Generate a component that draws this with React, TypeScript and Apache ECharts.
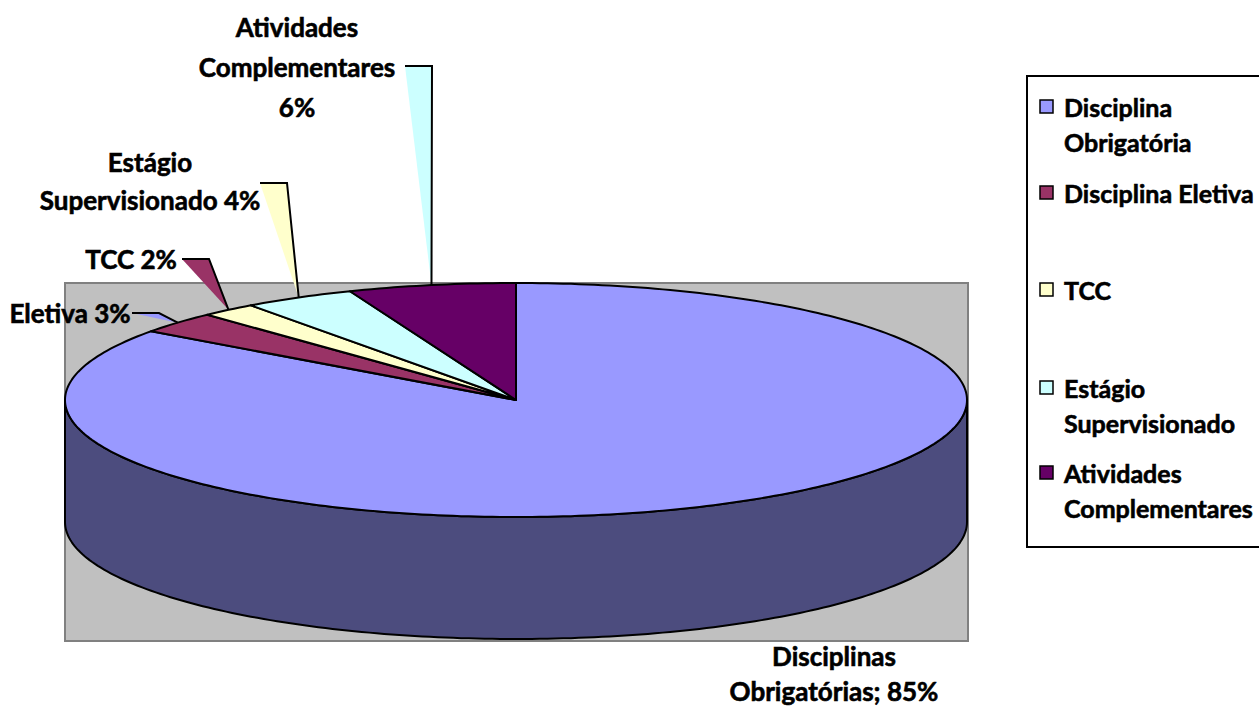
import React, { useEffect, useRef } from "react";
import * as echarts from "echarts";

// ---- data ----
const names = [
  "Disciplina Obrigatória",
  "Disciplina Eletiva",
  "TCC",
  "Estágio Supervisionado",
  "Atividades Complementares",
];
const legendLabels = [
  "Disciplina\nObrigatória",
  "Disciplina Eletiva",
  "TCC",
  "Estágio\nSupervisionado",
  "Atividades\nComplementares",
];
const values = [85, 3, 2, 4, 6];
const labelNames = [
  "Disciplinas\nObrigatórias",
  "Eletiva",
  "TCC",
  "Estágio\nSupervisionado",
  "Atividades\nComplementares",
];
const labelSeps = ["; ", " ", " ", " ", "\n"];

// ---- styles / layout ----
const topColors = ["#9999FF", "#993366", "#FFFFCC", "#CCFFFF", "#660066"];
const sideColors = ["#4C4C7E", "#4D1A33", "#808066", "#668080", "#330033"];
const FONT = "Lato, 'Open Sans', sans-serif";
const FS = 26;
const LEGEND_FS = 25;
const CX = 516, CY = 400, RX = 451, RY = 117, DEPTH = 122;
const labelPos = [
  [834, 673],
  [70, 313],
  [131, 259],
  [150, 181],
  [297, 67],
];
const labelLineHeights = [35, 38, 38, 38, 40];
const leaderStart: (number[] | null)[] = [null, [132, 313], [182, 259], [260, 183], [405, 66]];
const legendRowY = [107, 193, 290, 388, 473];

const total = values.reduce((a, b) => a + b, 0);
const cum: number[] = [];
values.reduce((acc, v, i) => {
  cum[i] = acc;
  return acc + v;
}, 0);

function pt(theta: number, dy = 0): number[] {
  return [CX + RX * Math.sin(theta), CY - RY * Math.cos(theta) + dy];
}
function arc(a0: number, a1: number, dy = 0): number[][] {
  const n = Math.max(2, Math.ceil(((a1 - a0) / (2 * Math.PI)) * 360));
  const out: number[][] = [];
  for (let k = 0; k <= n; k++) out.push(pt(a0 + ((a1 - a0) * k) / n, dy));
  return out;
}
function angles(i: number) {
  return [(cum[i] / total) * 2 * Math.PI, ((cum[i] + values[i]) / total) * 2 * Math.PI];
}

const textBase = {
  fill: "#000",
  fontFamily: FONT,
  fontWeight: "bold",
  stroke: "#000",
  lineWidth: 0.6,
};

export default function App() {
  const ref = useRef<HTMLDivElement>(null);
  useEffect(() => {
    if (!ref.current) return;
    const chart = echarts.init(ref.current, null, { renderer: "svg" });
    const data = values.map((v, i) => ({ value: v, name: names[i] }));

    const legendGraphics: any[] = [
      {
        type: "rect",
        shape: { x: 1027, y: 76, width: 300, height: 471 },
        style: { fill: "#fff", stroke: "#000", lineWidth: 2 },
      },
    ];
    legendLabels.forEach((t, i) => {
      const y = legendRowY[i];
      legendGraphics.push({
        type: "rect",
        shape: { x: 1040, y: y - 7, width: 13, height: 13 },
        style: { fill: topColors[i], stroke: "#000", lineWidth: 1.5 },
      });
      legendGraphics.push({
        type: "text",
        x: 1064,
        y: y - 17.5,
        style: {
          ...textBase,
          text: t,
          fontSize: LEGEND_FS,
          lineHeight: 35,
          align: "left",
          verticalAlign: "top",
        },
      });
    });

    chart.setOption({
      animation: false,
      graphic: [
        {
          type: "rect",
          z: 0,
          shape: { x: 65, y: 283, width: 903, height: 358 },
          style: { fill: "#C0C0C0", stroke: "#808080", lineWidth: 2 },
        },
        ...legendGraphics,
      ],
      series: [
        {
          type: "custom",
          name: "pie3d",
          coordinateSystem: "none",
          silent: true,
          z: 2,
          data,
          renderItem: (params: any, api: any) => {
            const i = params.dataIndex;
            const [s, e] = angles(i);
            const children: any[] = [];
            const a0 = Math.max(s, Math.PI / 2);
            const a1 = Math.min(e, (3 * Math.PI) / 2);
            if (a1 > a0) {
              const pts = arc(a0, a1).concat(arc(a0, a1, DEPTH).reverse());
              children.push({
                type: "polygon",
                shape: { points: pts },
                style: { fill: sideColors[i], stroke: "#000", lineWidth: 2, lineJoin: "round" },
              });
            }
            children.push({
              type: "polygon",
              shape: { points: [[CX, CY]].concat(arc(s, e)) },
              style: { fill: topColors[i], stroke: "#000", lineWidth: 2, lineJoin: "round" },
            });
            return { type: "group", children };
          },
        },
        {
          type: "custom",
          name: "labels",
          coordinateSystem: "none",
          silent: true,
          z: 5,
          data,
          renderItem: (params: any, api: any) => {
            const i = params.dataIndex;
            const [s, e] = angles(i);
            const children: any[] = [];
            const st = leaderStart[i];
            if (st) {
              const end = pt((s + e) / 2);
              const elbow = [st[0] + 27, st[1]];
              const prev = topColors[(i + topColors.length - 1) % topColors.length];
              children.push({
                type: "polygon",
                shape: { points: [st, elbow, end] },
                style: { fill: prev, stroke: null },
              });
              children.push({
                type: "polyline",
                shape: { points: [st, elbow, end] },
                style: { fill: null, stroke: "#000", lineWidth: 2 },
              });
            }
            const pct = Math.round((api.value(0) / total) * 100) + "%";
            children.push({
              type: "text",
              x: labelPos[i][0],
              y: labelPos[i][1],
              style: {
                ...textBase,
                text: labelNames[i] + labelSeps[i] + pct,
                fontSize: FS,
                lineHeight: labelLineHeights[i],
                align: "center",
                verticalAlign: "middle",
              },
            });
            return { type: "group", children };
          },
        },
      ],
    });
    return () => chart.dispose();
  }, []);
  return (
    <div
      ref={ref}
      style={{ position: "fixed", left: 0, top: 0, width: 1259, height: 709, background: "#fff" }}
    />
  );
}
